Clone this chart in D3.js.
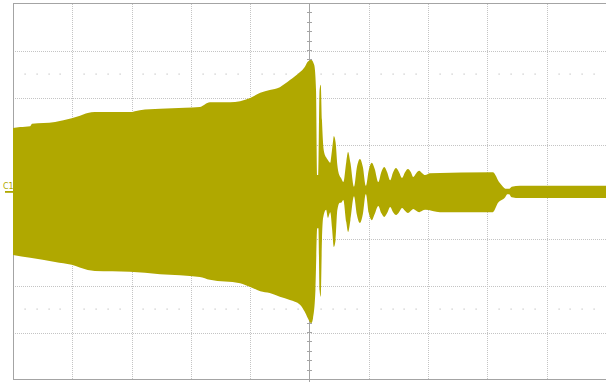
<!DOCTYPE html>
<html>
<head>
<meta charset="utf-8">
<script src="https://cdn.jsdelivr.net/npm/d3@7"></script>
<style>
  html, body { margin: 0; padding: 0; background: #ffffff; }
  svg { display: block; }
</style>
</head>
<body>
<svg id="scope" width="606" height="382"></svg>
<script>
// Channel 1 envelope: time in divisions (0..10), amplitude in divisions (-4..4)
const upperT = [0, 0.12, 0.29, 0.32, 0.71, 0.99, 1.13, 1.26, 1.38, 1.97, 2.14, 2.48, 2.90, 3.15, 3.32, 3.66,
  4.00, 4.17, 4.33, 4.50, 4.67, 4.84, 4.92, 4.97, 5.03, 5.08, 5.11, 5.13, 5.15, 5.17,
  5.19, 5.21, 5.24, 5.28, 5.31, 5.35, 5.37, 5.40, 5.41, 5.44, 5.47, 5.51, 5.53, 5.57,
  5.62, 5.65, 5.69, 5.75, 5.80, 5.85, 5.90, 5.95, 6.00, 6.05, 6.10, 6.16, 6.21, 6.26, 6.31, 6.36,
  6.41, 6.46, 6.51, 6.56, 6.61, 6.66, 6.71, 6.75, 6.80, 6.85, 6.90, 6.95, 7.03,
  8.09, 8.21, 8.35, 8.41, 8.55, 10.0];
const upperV = [1.35, 1.37, 1.39, 1.44, 1.48, 1.56, 1.61, 1.67, 1.69, 1.69, 1.73, 1.76, 1.78, 1.80, 1.90, 1.90,
  1.99, 2.10, 2.16, 2.22, 2.37, 2.54, 2.65, 2.76, 2.80, 2.69, 2.16, 0.35, 0.35, 2.16,
  2.27, 1.52, 0.88, 0.73, 0.67, 0.61, 0.78, 1.10, 1.18, 1.05, 0.56, 0.33, 0.29, 0.20,
  0.63, 0.84, 0.61, 0.10, 0.52, 0.69, 0.52, 0.12, 0.46, 0.61, 0.48, 0.20, 0.41, 0.52, 0.41, 0.24,
  0.41, 0.50, 0.41, 0.29, 0.41, 0.48, 0.41, 0.31, 0.39, 0.44, 0.39, 0.35, 0.39,
  0.41, 0.18, 0.03, 0.10, 0.12, 0.12];
const lowerT = [0, 0.29, 0.71, 0.99, 1.26, 1.38, 1.97, 2.48, 3.15, 3.32, 3.83, 4.00, 4.17, 4.33, 4.50, 4.67,
  4.84, 4.92, 4.97, 5.03, 5.06, 5.10, 5.13, 5.15, 5.17,
  5.19, 5.21, 5.23, 5.28, 5.31, 5.35, 5.38, 5.41, 5.44, 5.47, 5.51, 5.53, 5.57,
  5.62, 5.65, 5.69, 5.75, 5.80, 5.85, 5.90, 5.95, 6.00, 6.05, 6.10, 6.16, 6.21, 6.26, 6.31, 6.36,
  6.41, 6.46, 6.51, 6.56, 6.61, 6.66, 6.71, 6.75, 6.80, 6.85, 6.90, 6.95, 7.20,
  8.09, 8.18, 8.30, 8.35, 8.41, 8.55, 10.0];
const lowerV = [-1.35, -1.41, -1.50, -1.56, -1.67, -1.69, -1.71, -1.76, -1.82, -1.88, -1.95, -2.03, -2.12, -2.16, -2.24, -2.31,
  -2.41, -2.56, -2.69, -2.80, -2.69, -2.10, -0.78, -0.78, -2.10,
  -2.24, -1.03, -0.56, -0.39, -0.56, -0.44, -0.78, -1.18, -1.03, -0.39, -0.24, -0.24, -0.18,
  -0.65, -0.86, -0.61, -0.10, -0.50, -0.67, -0.48, -0.05, -0.46, -0.61, -0.48, -0.31, -0.46, -0.54, -0.46, -0.33,
  -0.44, -0.50, -0.44, -0.35, -0.41, -0.46, -0.41, -0.37, -0.41, -0.44, -0.41, -0.39, -0.44,
  -0.44, -0.24, -0.12, -0.03, -0.12, -0.14, -0.14];

const channelLabel = "C1";
const hDivs = 10;
const vDivs = 8;
const subDivs = 5;

const traceColor = "#b0a800";
const gridColor = "#c4c4c4";
const frameColor = "#a4a4a4";

const svg = d3.select("#scope");
const x = d3.scaleLinear().domain([0, hDivs]).range([13, 606]);
const y = d3.scaleLinear().domain([-vDivs / 2, vDivs / 2]).range([379.5, 3.5]);

const plotW = x(hDivs) - x(0);
const plotH = y(-vDivs / 2) - y(vDivs / 2);

// Dotted division grid (center lines drawn separately)
const vLines = d3.range(1, hDivs).filter(d => d !== hDivs / 2);
const hLines = d3.range(-vDivs / 2 + 1, vDivs / 2).filter(d => d !== 0);

const gridV = svg.append("g")
  .attr("transform", `translate(0,${y(vDivs / 2)})`)
  .call(d3.axisTop(x).tickValues(vLines).tickSize(-plotH).tickFormat(""));
const gridH = svg.append("g")
  .attr("transform", `translate(${x(0)},0)`)
  .call(d3.axisLeft(y).tickValues(hLines).tickSize(-plotW).tickFormat(""));
[gridV, gridH].forEach(g => {
  g.select(".domain").remove();
  g.selectAll(".tick line")
    .attr("stroke", gridColor)
    .attr("stroke-dasharray", "1,1")
    .attr("shape-rendering", "crispEdges");
});

// Dot rows at +/- 2.5 divisions
const dotT = d3.range(1, hDivs * subDivs).filter(k => k % subDivs !== 0).map(k => k / subDivs);
[2.5, -2.5].forEach(v => {
  svg.append("g").selectAll("rect")
    .data(dotT)
    .join("rect")
    .attr("x", d => Math.round(x(d)) - 0.5)
    .attr("y", Math.round(y(v)) - 0.5)
    .attr("width", 1.2)
    .attr("height", 1.2)
    .attr("fill", "#c2c2c2");
});

// Center graticule lines with sub-division ticks
const centerG = svg.append("g")
  .attr("stroke", frameColor)
  .attr("shape-rendering", "crispEdges");
centerG.append("line")
  .attr("x1", x(hDivs / 2)).attr("x2", x(hDivs / 2))
  .attr("y1", y(vDivs / 2)).attr("y2", 382);
centerG.append("line")
  .attr("x1", x(0)).attr("x2", x(hDivs))
  .attr("y1", y(0)).attr("y2", y(0));
const vTicks = d3.range(-vDivs / 2 * subDivs + 1, vDivs / 2 * subDivs).map(k => k / subDivs);
const hTicks = d3.range(1, hDivs * subDivs).map(k => k / subDivs);
centerG.selectAll(".vt")
  .data(vTicks).join("line").attr("class", "vt")
  .attr("x1", x(hDivs / 2) - 2.5).attr("x2", x(hDivs / 2) + 2.5)
  .attr("y1", d => y(d)).attr("y2", d => y(d));
centerG.selectAll(".ht")
  .data(hTicks).join("line").attr("class", "ht")
  .attr("y1", y(0) - 2.5).attr("y2", y(0) + 2.5)
  .attr("x1", d => x(d)).attr("x2", d => x(d));

// Frame
svg.append("rect")
  .attr("x", x(0)).attr("y", y(vDivs / 2))
  .attr("width", plotW + 5).attr("height", plotH)
  .attr("fill", "none")
  .attr("stroke", frameColor)
  .attr("shape-rendering", "crispEdges");

// Trace envelope: upper half and lower half filled toward the baseline
const upper = upperT.map((t, i) => ({ t, v: upperV[i] }));
const lower = lowerT.map((t, i) => ({ t, v: lowerV[i] }));

const upperArea = d3.area()
  .x(d => x(d.t))
  .y0(y(-0.06))
  .y1(d => y(d.v))
  .curve(d3.curveMonotoneX);
const lowerArea = d3.area()
  .x(d => x(d.t))
  .y0(y(0.06))
  .y1(d => y(d.v))
  .curve(d3.curveMonotoneX);

svg.append("path").datum(upper).attr("d", upperArea).attr("fill", traceColor);
svg.append("path").datum(lower).attr("d", lowerArea).attr("fill", traceColor);

// Channel ground marker
svg.append("text")
  .attr("x", 3).attr("y", 189)
  .attr("font-family", "DejaVu Sans, sans-serif")
  .attr("font-size", 8)
  .attr("fill", traceColor)
  .text(channelLabel);
svg.append("rect")
  .attr("x", 5).attr("y", y(0) - 0.5)
  .attr("width", x(0) - 5).attr("height", 1.8)
  .attr("fill", traceColor);
</script>
</body>
</html>
